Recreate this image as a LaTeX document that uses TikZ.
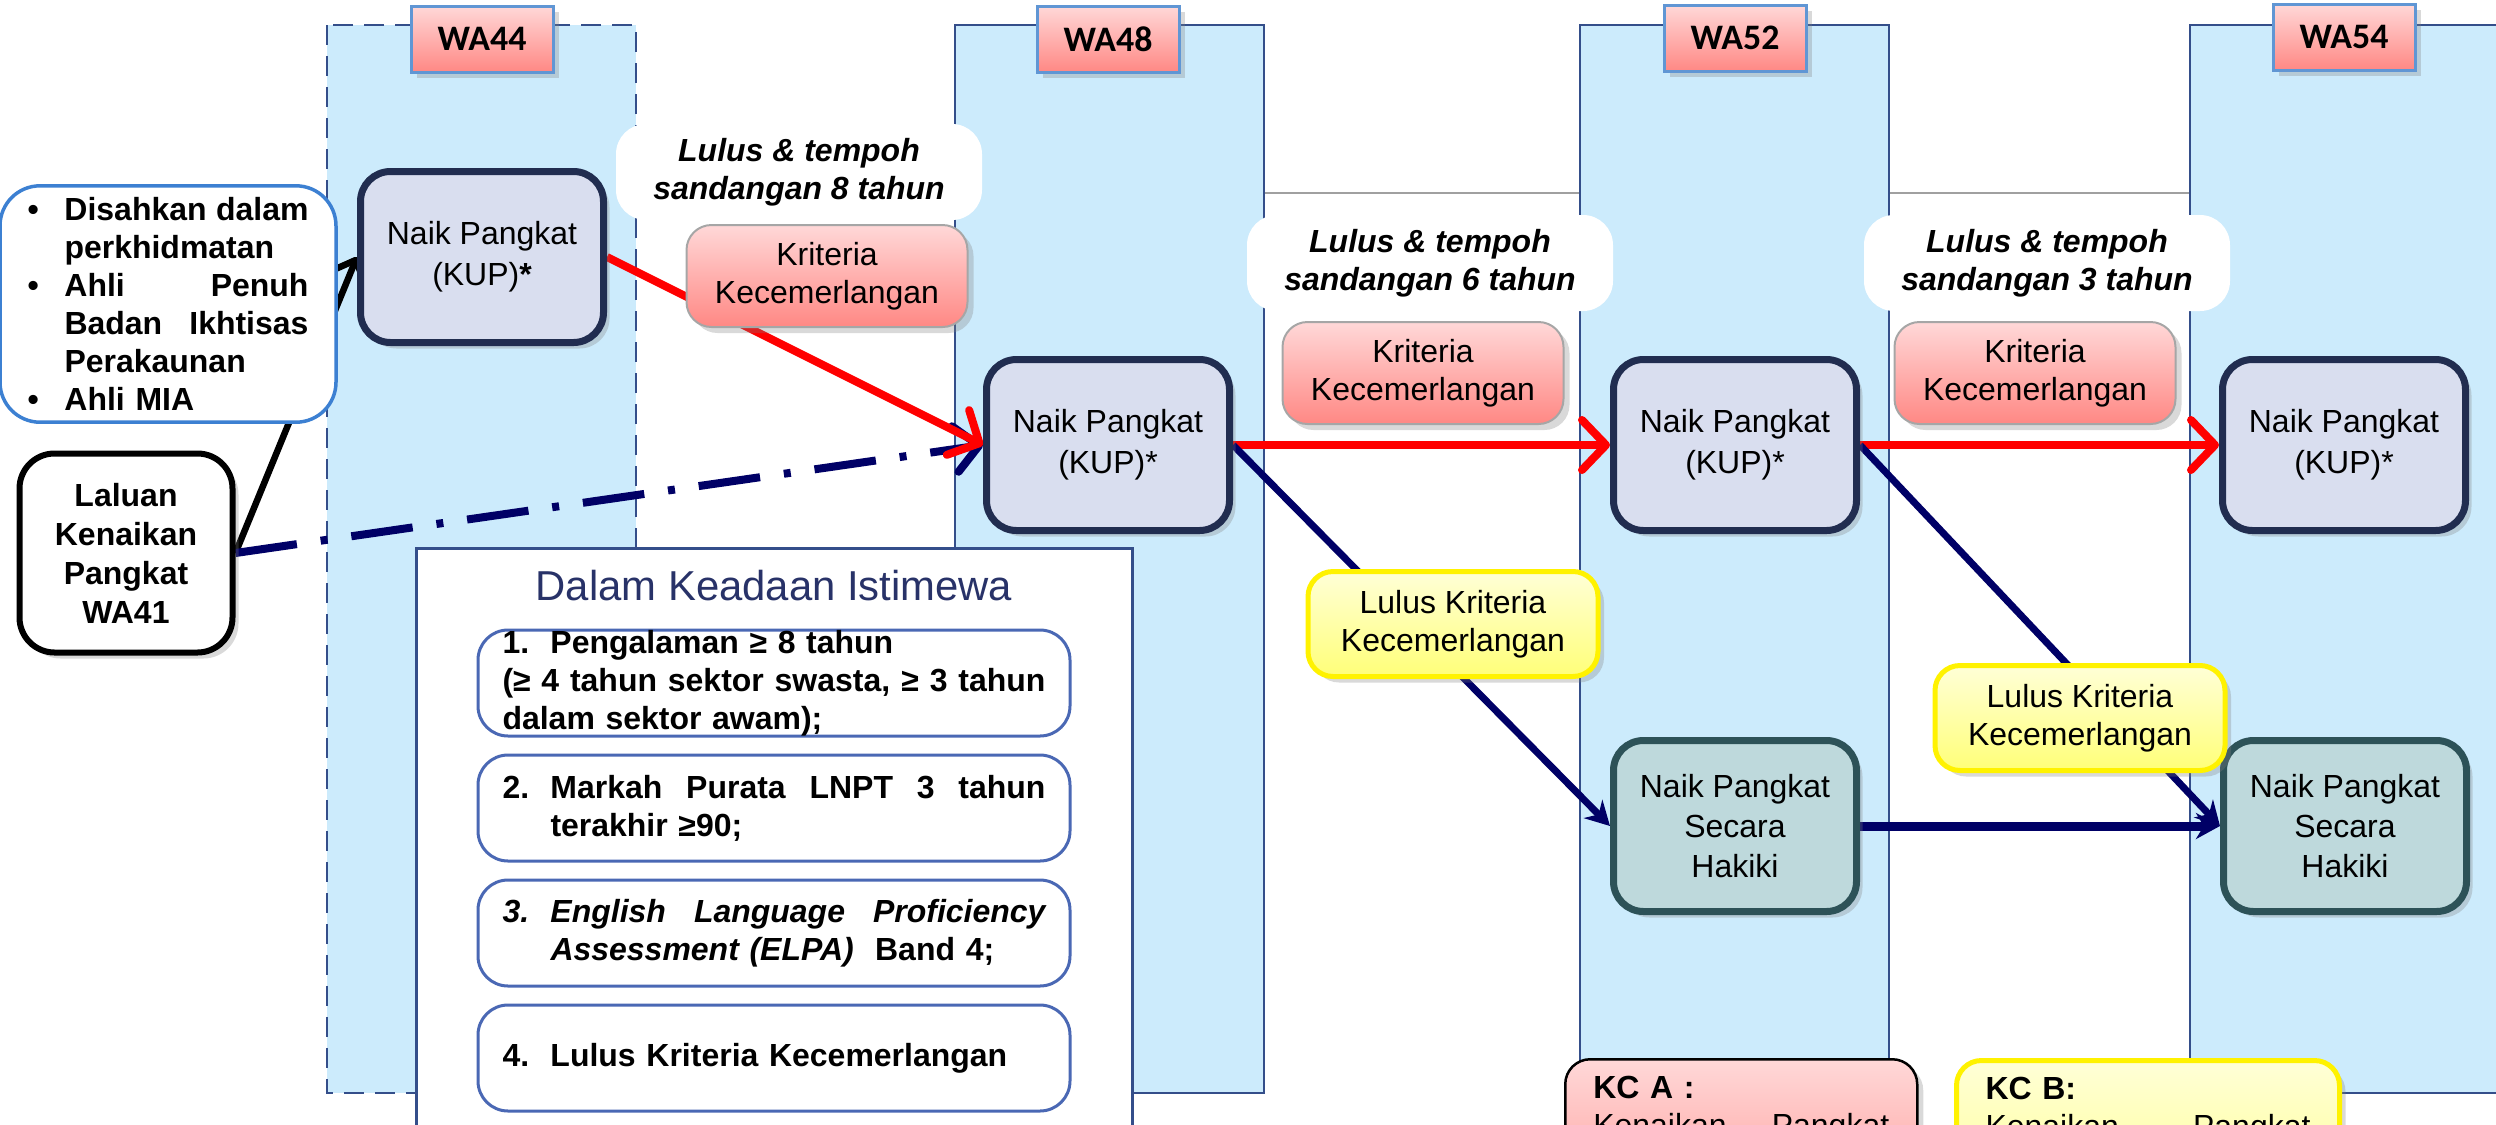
\documentclass[tikz,border=0pt]{standalone}
\usepackage{fontspec}
\setmainfont{Liberation Sans}
\newfontfamily\calfont{Carlito}
\usetikzlibrary{arrows.meta}
\usetikzlibrary{shadows}

\definecolor{colfill}{RGB}{204,235,252}
\definecolor{colline}{RGB}{52,78,138}
\definecolor{kupfill}{RGB}{217,222,239}
\definecolor{kupline}{RGB}{33,45,80}
\definecolor{hakfill}{RGB}{190,217,220}
\definecolor{hakline}{RGB}{45,82,88}
\definecolor{pinktop}{RGB}{255,216,216}
\definecolor{pinkbot}{RGB}{255,136,132}
\definecolor{yeltop}{RGB}{255,255,215}
\definecolor{yelbot}{RGB}{255,255,120}
\definecolor{labline}{RGB}{96,150,212}
\definecolor{navy}{RGB}{0,0,102}
\definecolor{bulline}{RGB}{60,128,210}
\definecolor{itemline}{RGB}{74,104,180}
\definecolor{titlecol}{RGB}{40,50,104}
\definecolor{graycol}{RGB}{160,160,160}

% baris rata kiri-kanan
\newcommand{\rata}[2]{\makebox[#1][s]{\spaceskip=0pt\relax #2}}

\pgfdeclarelayer{lajurlayer}
\pgfdeclarelayer{panahlayer}
\pgfsetlayers{lajurlayer,panahlayer,main}

\begin{document}
\begin{tikzpicture}[x=0.1mm,y=-0.1mm,
	bayang/.style={drop shadow={shadow xshift=0.6mm,shadow yshift=-0.6mm,opacity=0.3}},
	lajur/.style={fill=colfill,draw=colline,line width=0.25mm},
	tajuk/.style={draw=labline,line width=0.3mm,top color=pinktop,bottom color=pinkbot,minimum width=14.2mm,minimum height=6.6mm,inner sep=0pt,font=\calfont\bfseries\fontsize{10.2}{12}\selectfont,bayang},
	kup/.style={draw=kupline,fill=kupfill,line width=0.7mm,rounded corners=3mm,minimum width=24.3mm,minimum height=17.1mm,align=center,font=\fontsize{9.1}{11.7}\selectfont,bayang},
	hakiki/.style={kup,draw=hakline,fill=hakfill,font=\fontsize{9.1}{11.4}\selectfont},
	kriteria/.style={draw=black!35,line width=0.2mm,top color=pinktop,bottom color=pinkbot,rounded corners=2.5mm,minimum width=28.1mm,minimum height=10.2mm,align=center,font=\fontsize{9.1}{10.8}\selectfont,bayang},
	lulus/.style={fill=white,rounded corners=3mm,minimum width=36.6mm,minimum height=9.6mm,align=center,font=\bfseries\itshape\fontsize{9.1}{10.8}\selectfont},
	lkk/.style={draw=yellow,line width=0.5mm,top color=yeltop,bottom color=yelbot,rounded corners=2.5mm,minimum width=29mm,minimum height=10.5mm,align=center,font=\fontsize{9.1}{10.8}\selectfont,bayang},
	syarat/.style={draw=itemline,line width=0.3mm,fill=white,rounded corners=3mm,minimum width=59.2mm,minimum height=10.6mm,text width=54.3mm,align=left,inner ysep=0pt,font=\bfseries\fontsize{9.1}{10.8}\selectfont},
	kc/.style={rounded corners=2.5mm,align=left,anchor=north west,text height=2.3mm,text depth=15mm,inner ysep=1.6mm,font=\fontsize{9.1}{10.8}\selectfont,bayang},
	merah/.style={-{Straight Barb[length=2.4mm,width=5mm,round]},red,line width=0.8mm},
	biru/.style={-{Stealth[length=2.4mm,width=2.6mm]},navy,line width=0.7mm},
	hitam/.style={-{Straight Barb[length=2.4mm,width=4.6mm,round]},black,line width=0.65mm},
	titikgaris/.style={-{Straight Barb[length=2.4mm,width=4.6mm,round]},navy,line width=0.8mm,dash pattern=on 6.2mm off 2.4mm on 0.7mm off 2.4mm}]
	\useasboundingbox (0,0) rectangle (2496,1124);

	% gred
	\node [tajuk] (wa44) at (482,39) {WA44};
	\node [tajuk] (wa48) at (1108,39) {WA48};
	\node [tajuk] (wa52) at (1735,38) {WA52};
	\node [tajuk] (wa54) at (2344,37) {WA54};

	% naik pangkat
	\node [kup] (kup1) at (482,257) {Naik Pangkat\\(KUP)\textbf{*}};
	\node [kup] (kup2) at (1108,445) {Naik Pangkat\\(KUP)*};
	\node [kup] (kup3) at (1735,445) {Naik Pangkat\\(KUP)*};
	\node [kup] (kup4) at (2344,445) {Naik Pangkat\\(KUP)*};
	\node [hakiki] (hak1) at (1735,826) {Naik Pangkat\\Secara\\Hakiki};
	\node [hakiki] (hak2) at (2345,826) {Naik Pangkat\\Secara\\Hakiki};

	\node [lulus] (lulus1) at (799,172) {Lulus \& tempoh\\sandangan 8 tahun};
	\node [lulus] (lulus2) at (1430,263) {Lulus \& tempoh\\sandangan 6 tahun};
	\node [lulus] (lulus3) at (2047,263) {Lulus \& tempoh\\sandangan 3 tahun};
	\node [kriteria] (kri1) at (827,276) {Kriteria\\Kecemerlangan};
	\node [kriteria] (kri2) at (1423,373) {Kriteria\\Kecemerlangan};
	\node [kriteria] (kri3) at (2035,373) {Kriteria\\Kecemerlangan};
	\node [lkk] (lkk1) at (1453,624) {Lulus Kriteria\\Kecemerlangan};
	\node [lkk] (lkk2) at (2080,718) {Lulus Kriteria\\Kecemerlangan};

	% laluan WA41
	\node [draw=black,line width=0.6mm,fill=white,rounded corners=3.5mm,minimum width=21.3mm,minimum height=19.9mm,align=center,font=\bfseries\fontsize{9.1}{11.1}\selectfont,bayang] (laluan) at (126,553) {Laluan\\Kenaikan\\Pangkat\\WA41};
	\node [draw=bulline,line width=0.35mm,fill=white,rounded corners=4mm,minimum width=33.6mm,minimum height=23.1mm,text width=28.1mm,align=left,font=\bfseries\fontsize{9.1}{10.8}\selectfont] (kelayakan) at (168,304) {%
		\makebox[3.7mm][l]{\textbullet}\rata{24.4mm}{Disahkan dalam}\\
		\hspace*{3.7mm}perkhidmatan\\
		\makebox[3.7mm][l]{\textbullet}\rata{24.4mm}{Ahli Penuh}\\
		\hspace*{3.7mm}\rata{24.4mm}{Badan Ikhtisas}\\
		\hspace*{3.7mm}Perakaunan\\
		\makebox[3.7mm][l]{\textbullet}Ahli MIA};

	% dalam keadaan istimewa
	\node [draw=colline,line width=0.3mm,fill=white,anchor=north,minimum width=71.6mm,text height=3mm,text depth=60mm,inner ysep=2.2mm,text=titlecol,font=\fontsize{11.9}{14}\selectfont] (dalam) at (774,547) {Dalam Keadaan Istimewa};
	\node [syarat] (s1) at (774,683) {\makebox[4.8mm][l]{1.}Pengalaman ≥ 8 tahun\\
		\rata{54.3mm}{(≥ 4 tahun sektor swasta, ≥ 3 tahun}\\
		dalam sektor awam);};
	\node [syarat] (s2) at (774,808) {\makebox[4.8mm][l]{2.}\rata{49.5mm}{Markah Purata LNPT 3 tahun}\\
		\hspace*{4.8mm}terakhir ≥90;};
	\node [syarat] (s3) at (774,933) {\makebox[4.8mm][l]{\itshape 3.}\rata{49.5mm}{\itshape English Language Proficiency}\\
		\hspace*{4.8mm}{\itshape Assessment (ELPA)}\ \ Band 4;};
	\node [syarat] (s4) at (774,1058) {\makebox[4.8mm][l]{4.}Lulus Kriteria Kecemerlangan};

	% kc
	\node [kc,draw=black,line width=0.25mm,top color=pinktop,bottom color=pinkbot,text width=29.6mm,inner xsep=2.8mm] (kca) at (1564,1058) {\textbf{KC A :}\\\rata{29.6mm}{Kenaikan Pangkat}};
	\node [kc,draw=yellow,line width=0.5mm,top color=yeltop,bottom color=yelbot,text width=32.5mm,inner xsep=2.9mm] (kcb) at (1954,1058) {\textbf{KC B:}\\\rata{32.5mm}{Kenaikan Pangkat}};

	\begin{pgfonlayer}{lajurlayer}
		\draw [graycol,line width=0.2mm] (636,193) -- (2190,193);
		\draw [lajur,dash pattern=on 2mm off 1.1mm] (327,25) rectangle (636,1093);
		\foreach \x in {955,1580,2190}
			\draw [lajur] (\x,25) rectangle ++(309,1068);
	\end{pgfonlayer}

	\begin{pgfonlayer}{panahlayer}
		\draw [hitam] (laluan.east) -- (kup1.west);
		\draw [titikgaris] (laluan.east) -- (kup2.west);
		\draw [merah] (kup1.east) -- (kup2.west);
		\foreach \from/\to in {kup2/kup3, kup3/kup4}
			\draw [merah] (\from) -- (\to);
		\foreach \from/\to in {kup2/hak1, kup3/hak2}
			\draw [biru] (\from.east) -- (\to.west);
		\draw [biru,line width=0.9mm] (hak1) -- (hak2);
	\end{pgfonlayer}
\end{tikzpicture}
\end{document}
